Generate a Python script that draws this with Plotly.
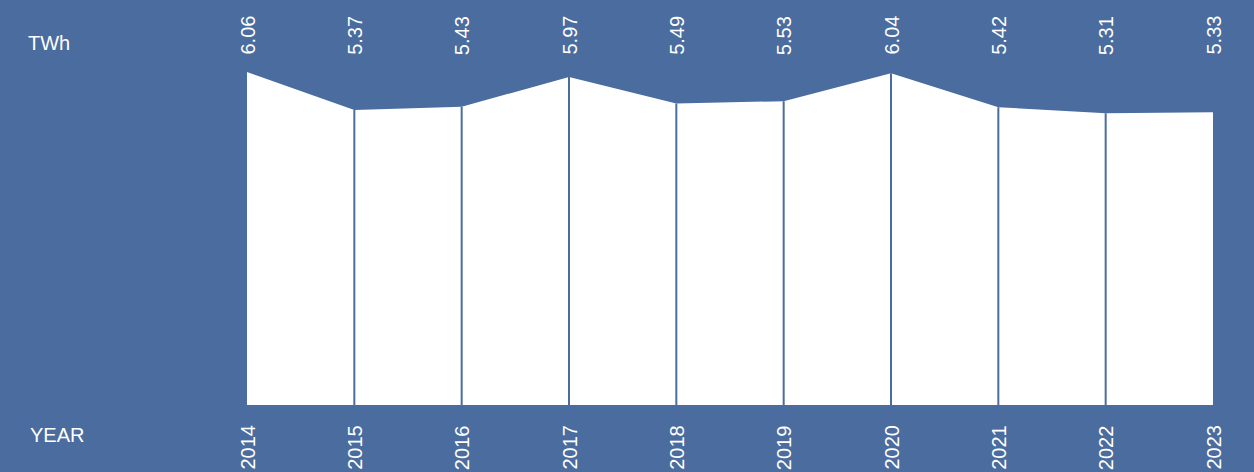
import plotly.graph_objects as go

# Annual electricity figures (TWh)
years = [2014, 2015, 2016, 2017, 2018, 2019, 2020, 2021, 2022, 2023]
values = [6.06, 5.37, 5.43, 5.97, 5.49, 5.53, 6.04, 5.42, 5.31, 5.33]
value_labels = ["6.06", "5.37", "5.43", "5.97", "5.49", "5.53", "6.04", "5.42", "5.31", "5.33"]
year_labels = [str(y) for y in years]

BG = "#4a6c9e"
FONT = dict(family="Liberation Sans, Arial, sans-serif", size=20, color="#ffffff")

W, H = 1254, 472
ML, MR, MT, MB = 247, 41, 60, 67
plot_h = H - MT - MB

fig = go.Figure()

fig.add_trace(go.Scatter(
    x=years, y=values, mode="lines", fill="tozeroy",
    fillcolor="#ffffff", line=dict(width=0, color="#ffffff"),
    hoverinfo="skip", showlegend=False,
))

# separators between the yearly segments
shapes = []
for yr, v in zip(years[1:-1], values[1:-1]):
    shapes.append(dict(type="line", xref="x", yref="y", x0=yr, x1=yr, y0=0, y1=v,
                       line=dict(color=BG, width=2)))

annotations = []
for yr, lbl in zip(years, value_labels):
    annotations.append(dict(x=yr, xref="x", y=(H - MB - 56) / plot_h, yref="paper",
                            text=lbl, textangle=-90, showarrow=False, borderpad=0,
                            xanchor="center", yanchor="bottom", font=FONT))
for yr, lbl in zip(years, year_labels):
    annotations.append(dict(x=yr, xref="x", y=(H - MB - 423) / plot_h, yref="paper",
                            text=lbl, textangle=-90, showarrow=False,
                            xanchor="center", yanchor="top", font=FONT))

plot_w = W - ML - MR
annotations.append(dict(x=(26 - ML) / plot_w, xref="paper", y=(H - MB - 43) / plot_h, yref="paper",
                        text="TWh", showarrow=False, xanchor="left", yanchor="middle", font=FONT))
annotations.append(dict(x=(28 - ML) / plot_w, xref="paper", y=(H - MB - 435) / plot_h, yref="paper",
                        text="YEAR", showarrow=False, xanchor="left", yanchor="middle", font=FONT))

fig.update_layout(
    width=W, height=H,
    margin=dict(l=ML, r=MR, t=MT, b=MB),
    paper_bgcolor=BG, plot_bgcolor=BG,
    xaxis=dict(range=[years[0], years[-1]], showgrid=False, zeroline=False,
               showticklabels=False, ticks="", showline=False),
    yaxis=dict(range=[0, 6.28], showgrid=False, zeroline=False,
               showticklabels=False, ticks="", showline=False),
    shapes=shapes, annotations=annotations,
    showlegend=False,
)

fig.write_html("out.html")
